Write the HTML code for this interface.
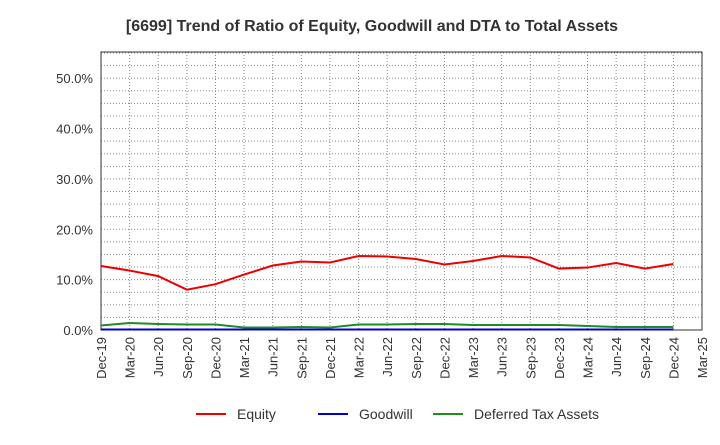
<!DOCTYPE html>
<html><head><meta charset="utf-8"><style>
body{margin:0;background:#fff;font-family:"Liberation Sans",sans-serif;}
</style></head><body>
<svg id="chart" width="720" height="440" xmlns="http://www.w3.org/2000/svg" font-family="Liberation Sans, sans-serif">
<text x="372" y="31" text-anchor="middle" font-size="16" font-weight="bold" fill="#333">[6699]  Trend of Ratio of Equity, Goodwill and DTA to Total Assets</text>
<g id="grid"></g><g id="axes"></g><g id="series"></g>
<g>
<g><line x1="196" y1="414" x2="226" y2="414" stroke="#e00" stroke-width="2"/><text x="237" y="419" font-size="14" fill="#333">Equity</text></g>
<g><line x1="318" y1="414" x2="348" y2="414" stroke="#00c" stroke-width="2"/><text x="359" y="419" font-size="14" fill="#333">Goodwill</text></g>
<g><line x1="433" y1="414" x2="463" y2="414" stroke="#228b22" stroke-width="2"/><text x="474" y="419" font-size="14" fill="#333">Deferred Tax Assets</text></g>
</g>
</svg>
<script>
const categories=["Dec-19","Mar-20","Jun-20","Sep-20","Dec-20","Mar-21","Jun-21","Sep-21","Dec-21","Mar-22","Jun-22","Sep-22","Dec-22","Mar-23","Jun-23","Sep-23","Dec-23","Mar-24","Jun-24","Sep-24","Dec-24","Mar-25"];
const equity=[12.7,11.8,10.7,8.0,9.1,11.0,12.8,13.6,13.4,14.7,14.6,14.1,13.0,13.7,14.7,14.4,12.2,12.4,13.3,12.2,13.1];
const goodwill=[0.1,0.1,0.1,0.1,0.1,0.1,0.1,0.1,0.1,0.1,0.1,0.1,0.1,0.1,0.1,0.1,0.1,0.1,0.1,0.1,0.1];
const dta=[0.9,1.4,1.2,1.1,1.1,0.5,0.5,0.6,0.5,1.1,1.1,1.2,1.2,1.0,1.0,1.0,1.0,0.8,0.6,0.6,0.6];
const yTicks=[0,10,20,30,40,50];
const NS="http://www.w3.org/2000/svg";
const L=101,R=702,T=52,B=330,YMAX=55.2;
const x=i=>L+(R-L)*i/(categories.length-1);
const y=v=>B-(B-T)*v/YMAX;
function mk(tag,attrs,parent){const e=document.createElementNS(NS,tag);for(const k in attrs)e.setAttribute(k,attrs[k]);parent.appendChild(e);return e;}
const grid=document.getElementById('grid'),axes=document.getElementById('axes'),ser=document.getElementById('series');
categories.forEach((c,i)=>{
 const g=mk('line',{x1:x(i),x2:x(i),y1:T,y2:B,stroke:'#888','stroke-dasharray':'1,2'},grid);
 
 
 const t=mk('text',{x:0,y:0,'font-size':13,fill:'#333','text-anchor':'end',transform:`translate(${x(i)+5},${B+7}) rotate(-90)`},axes);
 t.textContent=c;
 
 
});
for(let v=0;v<=55;v+=2.5){
 const g=mk('line',{x1:L,x2:R,y1:y(v),y2:y(v),stroke:'#888','stroke-dasharray':'1,2'},grid);
 
 
}
yTicks.forEach(v=>{
 const t=mk('text',{x:L-8,y:y(v)+5,'font-size':13,fill:'#333','text-anchor':'end'},axes);
 t.textContent=v.toFixed(1)+'%';
 
 
});
const fr=mk('rect',{x:L,y:T,width:R-L,height:B-T,fill:'none',stroke:'#333'},axes);


function line(d,col,name){
 const p=mk('polyline',{points:d.map((v,i)=>x(i)+','+y(v)).join(' '),fill:'none',stroke:col,'stroke-width':2},ser);
 
 
}
line(dta,'#228b22','dta-line');
line(goodwill,'#00c','goodwill-line');
line(equity,'#e00','equity-line');
</script>
</body></html>
